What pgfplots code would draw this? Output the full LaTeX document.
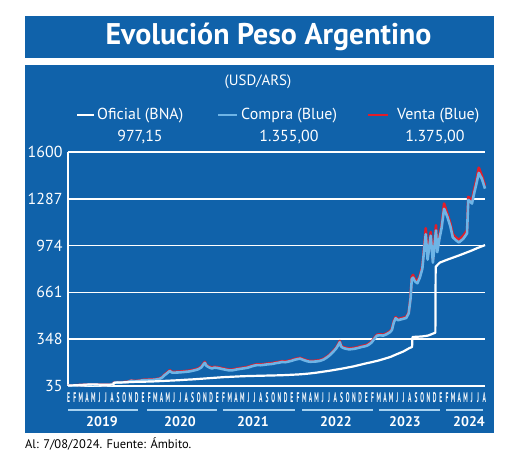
\documentclass[border=0pt]{standalone}
\usepackage{pgfplots}
\pgfplotsset{compat=1.18}
\usepackage{pgfplotstable}
\usepackage{fontspec}
\setmainfont{PT Sans}
\usepackage{graphicx}

\definecolor{bgblue}{RGB}{16,98,170}
\definecolor{lblue}{RGB}{110,180,230}
\definecolor{vred}{RGB}{228,28,40}

% x = months since 1 Jan 2019
\pgfplotstableread{
x y
0 38
1 39.5
2 41.5
3 44
4 46
5 44
6 43
7.3 44.5
7.45 57
8 58
9 59.5
10 61
11 63
12 63.5
13 64.5
14 66
15 68
16 70
17 72
18 74
19 77
20 79
21 82
22 85
23 88
24 91
25 94
26 96
27 98
28 100
29 101.5
30 102.5
31 103.5
32 104.5
33 105.5
34 106.5
35 108
36 110
37 112
38 115
39 119
40 124
41 130
42 136
43 143
44 150
45 158
46 166
47 176
48 186
49 195
50 205
51 217
52 230
53 248
54 265
55 288
55.45 296
55.5 362
56 364
57 366
58 372
58.5 380
59.2 392
59.25 832
59.9 860
61 878
62 893
63 908
64 924
65 940
66 958
67.2 977.15
}\oficial

\pgfplotstableread{
x compra venta
0.0 37.5 39.0
1.0 38.0 39.5
2.0 40.5 42.0
3.0 43.0 44.5
3.5 44.5 46.0
4.0 44.0 45.5
5.0 42.5 44.0
6.0 41.5 43.0
7.0 43.5 45.0
7.4 55.0 57.0
7.7 58.5 60.5
8.5 57.5 59.5
9.5 61.0 63.0
10.2 70.0 72.0
10.8 66.0 68.0
11.5 69.0 71.0
12.0 73.0 76.0
13.0 75.0 78.0
14.0 77.0 80.0
14.7 82.0 85.0
15.2 92 96
15.5 105 110
15.9 118 123
16.4 135 140
16.8 124 129
17.5 125 130
18.0 126 131
18.5 128 133
19.0 130 135
19.5 132 137
20.0 136 141
20.5 141 146
21.0 147 152
21.5 160 166
21.8 178 184
22.05 190 196
22.3 170 176
22.7 160 166
23.2 152 157
23.6 158 163
24.0 156 161
24.5 152 157
25.0 147 152
25.5 143 148
26.0 139 144
26.5 140 145
27.0 144 149
27.5 148 153
28.0 151 156
28.5 154 159
29.0 158 163
29.5 165 170
30.0 171 176
30.5 175 180
31.0 174 179
31.5 176 181
32.0 179 184
32.5 181 186
33.0 183 188
33.5 188 193
34.0 191 196
34.5 196 201
35.0 194 199
35.5 198 203
36.0 203 208
36.5 210 215
37.0 215 220
37.4 218 223
38.0 208 213
38.5 201 206
39.0 197 202
39.5 198 203
40.0 199 204
40.6 203 208
41.2 212 217
41.8 228 233
42.3 245 250
42.7 262 268
43.2 285 291
43.5 305 312
43.8 328 336
44.0 300 307
44.3 290 296
44.8 284 290
45.3 280 286
45.8 282 288
46.3 285 291
46.8 290 296
47.3 296 302
47.8 300 306
48.2 305 311
48.7 318 324
49.0 330 336
49.5 358 364
49.8 372 378
50.3 374 380
50.8 372 378
51.3 380 386
51.9 395 401
52.2 410 418
52.5 460 470
52.8 488 495
53.2 475 482
53.6 480 487
54.0 484 491
54.5 490 497
54.9 520 528
55.2 620 630
55.4 750 765
55.6 760 778
55.9 735 750
56.3 722 735
56.7 760 772
57.1 820 835
57.4 950 970
57.65 1050 1090
57.95 880 900
58.45 1040 1065
58.8 860 880
59.3 1075 1110
59.5 930 950
59.9 1030 1045
60.2 1090 1110
60.6 1220 1255
61.1 1170 1190
61.6 1105 1125
62.0 1030 1050
62.5 1010 1028
63.0 995 1012
63.7 1020 1040
64.3 1055 1075
64.5 1280 1300
65.1 1255 1275
65.4 1315 1340
65.8 1385 1410
66.2 1460 1495
66.7 1420 1440
67.2 1355 1375
}\blue

\begin{document}
\begin{tikzpicture}[x=1bp,y=1bp]
\useasboundingbox (0,0) rectangle (520,467);
\fill[white] (0,0) rectangle (520,467);
\fill[bgblue] (25,409) rectangle (494,451);
\fill[bgblue] (25,34) rectangle (494,402);
\node[white, inner sep=0, font=\fontsize{30}{30}\selectfont\bfseries] at (268.5,430) {Evolución Peso Argentino};
\node[white, inner sep=0, font=\fontsize{15}{15}\selectfont] at (258,385) {(USD/ARS)};
% legend
\draw[white, line width=2.4bp] (77,352) -- (94,352);
\node[white, anchor=west, inner sep=0, font=\fontsize{16}{16}\selectfont] at (97,351) {Oficial (BNA)};
\node[white, inner sep=0, font=\fontsize{16}{16}\selectfont] at (140,330) {977,15};
\draw[lblue, line width=2.4bp] (218,352) -- (237,352);
\node[white, anchor=west, inner sep=0, font=\fontsize{16}{16}\selectfont] at (241,351) {Compra (Blue)};
\node[white, inner sep=0, font=\fontsize{16}{16}\selectfont] at (289,330) {1.355,00};
\draw[vred, line width=2.4bp] (368,352) -- (388,352);
\node[white, anchor=west, inner sep=0, font=\fontsize{16}{16}\selectfont] at (397,351) {Venta (Blue)};
\node[white, inner sep=0, font=\fontsize{16}{16}\selectfont] at (435,330) {1.375,00};

\begin{axis}[
  at={(68bp,81bp)}, anchor=south west,
  scale only axis, width=417bp, height=234bp,
  xmin=0, xmax=67.2, ymin=35, ymax=1600,
  axis x line=none, axis y line*=left,
  y axis line style={-},
  axis line style={white, line width=1.5bp},
  xtick=\empty,
  ytick={35,348,661,974,1287,1600},
  ymajorgrids, major grid style={white, line width=1.5bp},
  major tick length=0pt,
  yticklabel style={white, font=\fontsize{16}{16}\selectfont, xshift=-2bp},
  /pgf/number format/1000 sep={},
  /pgf/number format/assume math mode=true,
  clip=false,
]
\addplot[vred, line width=2.6bp, line join=round] table[x=x, y=venta] {\blue};
\addplot[lblue, line width=2.6bp, line join=round] table[x=x, y=compra] {\blue};
\addplot[white, line width=2.2bp, line join=round] table[x=x, y=y] {\oficial};
\end{axis}

% month letters
\foreach \l [count=\i from 0] in {E,F,M,A,M,J,J,A,S,O,N,D,E,F,M,A,M,J,J,A,S,O,N,D,E,F,M,A,M,J,J,A,S,O,N,D,E,F,M,A,M,J,J,A,S,O,N,D,E,F,M,A,M,J,J,A,S,O,N,D,E,F,M,A,M,J,J,A}
  \node[white, inner sep=0, font=\fontsize{14}{14}\selectfont\bfseries] at ({68.5+6.205*\i},69) {\scalebox{0.4}[1]{\l}};
% year lines
\foreach \a/\b/\c/\yr in {68/138/102/2019, 147/217/180/2020, 223/295/253/2021, 302/373/336/2022, 379/440/405/2023, 446/483/469/2024}{
  \draw[lblue!60!white, line width=1.3bp] (\a,57) -- (\b,57);
  \node[white, inner sep=0, font=\fontsize{14}{14}\selectfont\bfseries] at (\c,45) {\yr};
}
\node[black, anchor=west, inner sep=0, font=\fontsize{12.5}{12.5}\selectfont] at (25,23) {Al: 7/08/2024. Fuente: Ámbito.};
\end{tikzpicture}
\end{document}
